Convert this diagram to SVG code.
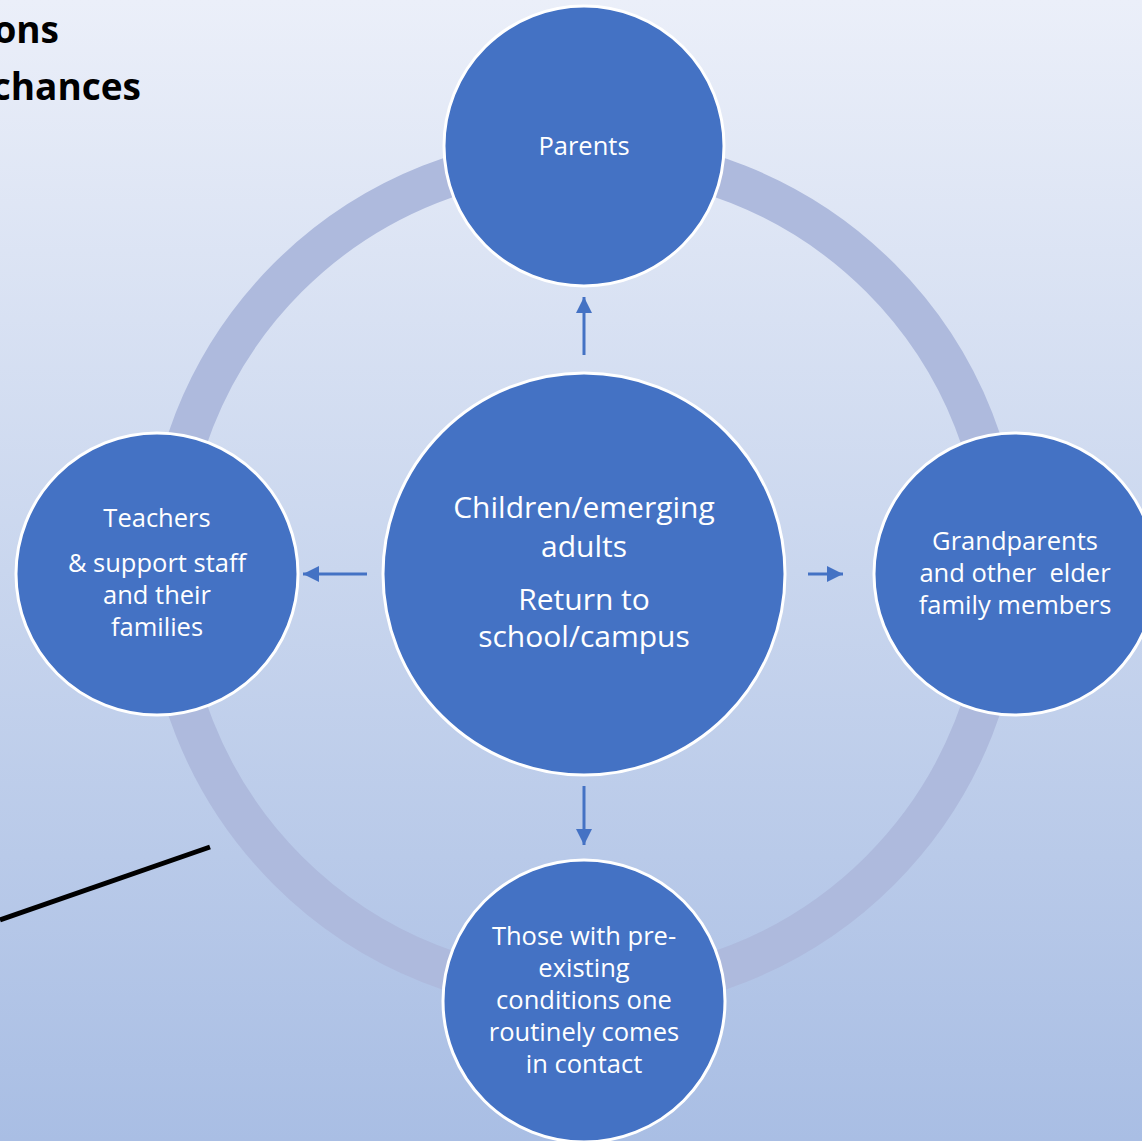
<svg xmlns="http://www.w3.org/2000/svg" width="1142" height="1141" viewBox="0 0 1142 1141">
<defs>
<linearGradient id="bg" x1="0" y1="0" x2="0" y2="1">
<stop offset="0" stop-color="#ebeff9"/>
<stop offset="0.5" stop-color="#c9d6ee"/>
<stop offset="1" stop-color="#a9bee4"/>
</linearGradient>
<marker id="ah" markerUnits="userSpaceOnUse" markerWidth="18" markerHeight="18" viewBox="0 0 18 18" refX="16" refY="9" orient="auto">
<path d="M0,1 L16,9 L0,17 Z" fill="#4472c4"/>
</marker>
<style>
.node{fill:#4472c4;stroke:#ffffff;stroke-width:3}
.lbl{font-family:"Open Sans","Liberation Sans",sans-serif;font-size:25.5px;fill:#ffffff;text-anchor:middle}
.big{font-size:30px}
.conn{stroke:#4472c4;stroke-width:3;fill:none;marker-end:url(#ah)}
.title{font-family:"Open Sans","Liberation Sans",sans-serif;font-weight:bold;font-size:37px;fill:#000000;text-anchor:end}
</style>
</defs>
<rect x="0" y="0" width="1142" height="1141" fill="url(#bg)"/>
<text class="title" x="59" y="43">ons</text>
<text class="title" x="141" y="100">chances</text>
<circle cx="584" cy="574" r="419" fill="none" stroke="#aebadd" stroke-width="40"/>
<line x1="0" y1="920" x2="210" y2="847" stroke="#000000" stroke-width="5"/>
<g id="connectors">
<line class="conn" x1="584" y1="355" x2="584" y2="297"/>
<line class="conn" x1="367" y1="574" x2="303" y2="574"/>
<line class="conn" x1="808" y1="574" x2="843" y2="574"/>
<line class="conn" x1="584" y1="786" x2="584" y2="845"/>
</g>
<g id="parents">
<circle class="node" cx="584" cy="146" r="140"/>
<text class="lbl" x="584" y="155">Parents</text>
</g>
<g id="teachers">
<circle class="node" cx="157" cy="574" r="141"/>
<text class="lbl" x="157" y="527">Teachers</text>
<text class="lbl" x="157" y="572">&amp; support staff</text>
<text class="lbl" x="157" y="604">and their</text>
<text class="lbl" x="157" y="636">families</text>
</g>
<g id="grandparents">
<circle class="node" cx="1015" cy="574" r="141"/>
<text class="lbl" x="1015" y="550">Grandparents</text>
<text class="lbl" x="1015" y="582" xml:space="preserve">and other  elder</text>
<text class="lbl" x="1015" y="614">family members</text>
</g>
<g id="preexisting">
<circle class="node" cx="584" cy="1001" r="141"/>
<text class="lbl" x="584" y="945">Those with pre-</text>
<text class="lbl" x="584" y="977">existing</text>
<text class="lbl" x="584" y="1009">conditions one</text>
<text class="lbl" x="584" y="1041">routinely comes</text>
<text class="lbl" x="584" y="1073">in contact</text>
</g>
<g id="children">
<circle class="node" cx="584" cy="574" r="201"/>
<text class="lbl big" x="584" y="518">Children/emerging</text>
<text class="lbl big" x="584" y="557">adults</text>
<text class="lbl big" x="584" y="610">Return to</text>
<text class="lbl big" x="584" y="647">school/campus</text>
</g>
</svg>
